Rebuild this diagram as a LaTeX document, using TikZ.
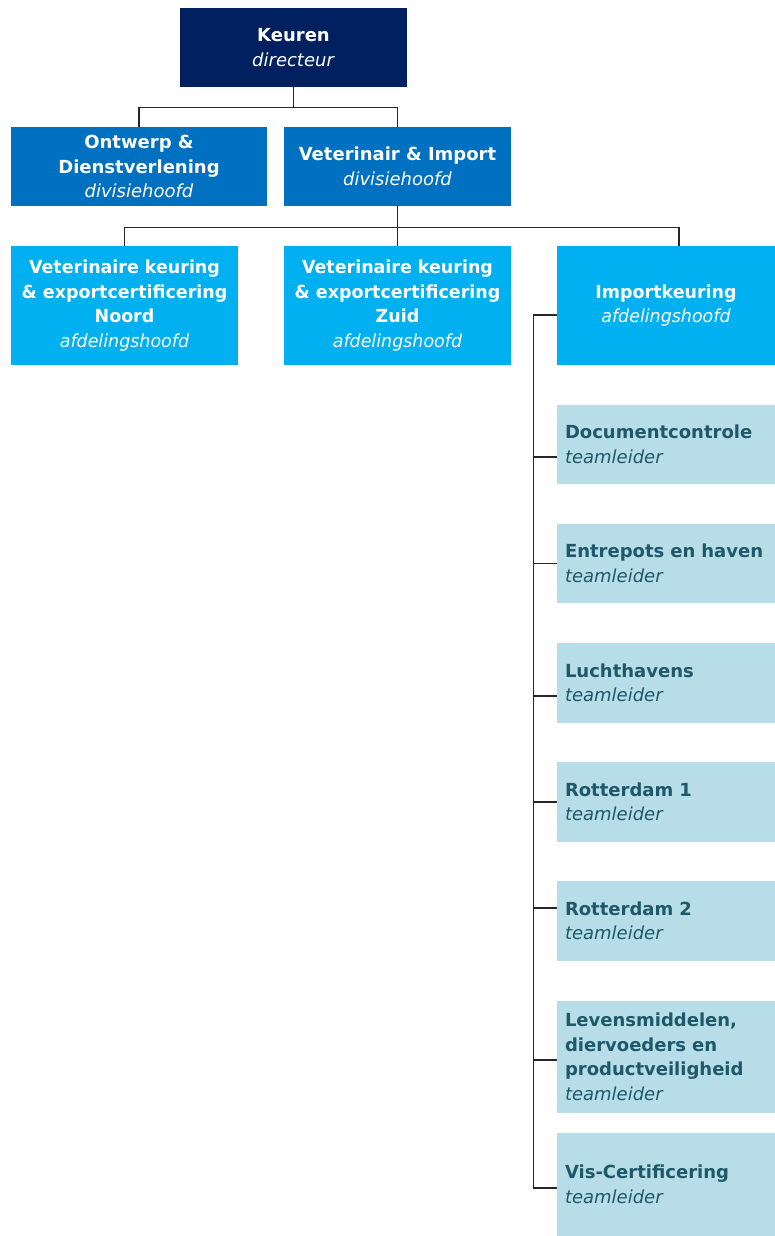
\documentclass[tikz,border=0pt]{standalone}
\usepackage{fontspec}
\setmainfont{DejaVu Sans}
\newfontfamily\condfont{DejaVu Sans}[FakeStretch=0.97]
\usetikzlibrary{positioning,calc}

\definecolor{navyblue}{RGB}{0,32,96}
\definecolor{midblue}{RGB}{0,112,192}
\definecolor{skyblue}{RGB}{0,176,240}
\definecolor{paleblue}{RGB}{183,221,232}
\definecolor{tealtext}{RGB}{31,88,104}

\tikzset{
  orgbox/.style={rectangle, inner sep=0pt, text=white, align=center,
    font=\fontsize{18}{24.5}\selectfont},
  orgtop/.style={orgbox, fill=navyblue, minimum width=227pt, minimum height=79pt},
  orgdiv/.style={orgbox, fill=midblue, minimum height=79pt},
  orgdept/.style={orgbox, fill=skyblue, minimum height=119pt,
    font=\condfont\fontsize{18}{24.5}\selectfont},
  orgteam/.style={orgbox, fill=paleblue, text=tealtext, align=left,
    minimum width=218pt, text width=202pt},
  link/.style={draw=black!85, line width=1.3pt}
}

\begin{document}
\begin{tikzpicture}[x=1pt,y=-1pt]
    \useasboundingbox (0,0) rectangle (775,1236);

    % Top
    \node[orgtop] (keuren) at (293.5,47.5) {\textbf{Keuren}\\\textit{directeur}};

    % Divisions
    \node[orgdiv, minimum width=256pt] (ontwerp) at (139,166.5)
        {\textbf{Ontwerp \&}\\\textbf{Dienstverlening}\\\textit{divisiehoofd}};
    \node[orgdiv, minimum width=227pt] (vetimport) at (397.5,166.5)
        {\textbf{Veterinair \& Import}\\\textit{divisiehoofd}};

    % Departments
    \node[orgdept, minimum width=227pt] (noord) at (124.5,305.5)
        {\textbf{Veterinaire keuring}\\\textbf{\& exportcertificering}\\\textbf{Noord}\\\textit{afdelingshoofd}};
    \node[orgdept, minimum width=227pt] (zuid) at (397.5,305.5)
        {\textbf{Veterinaire keuring}\\\textbf{\& exportcertificering}\\\textbf{Zuid}\\\textit{afdelingshoofd}};
    \node[orgdept, minimum width=218pt] (import) at (666,305.5)
        {\textbf{Importkeuring}\\\textit{afdelingshoofd}};

    % Teams
    \node[orgteam, minimum height=79pt] (doc) at (666,444.5)
        {\textbf{Documentcontrole}\\\textit{teamleider}};
    \node[orgteam, minimum height=79pt] (entrepot) at (666,563.5)
        {\textbf{Entrepots en haven}\\\textit{teamleider}};
    \node[orgteam, minimum height=80pt] (lucht) at (666,683)
        {\textbf{Luchthavens}\\\textit{teamleider}};
    \node[orgteam, minimum height=80pt] (rdam1) at (666,802)
        {\textbf{Rotterdam 1}\\\textit{teamleider}};
    \node[orgteam, minimum height=80pt] (rdam2) at (666,921)
        {\textbf{Rotterdam 2}\\\textit{teamleider}};
    \node[orgteam, minimum height=112pt] (levens) at (666,1057)
        {\textbf{Levensmiddelen,}\\\textbf{diervoeders en}\\\textbf{productveiligheid}\\\textit{teamleider}};
    \node[orgteam, minimum height=103pt] (vis) at (666,1184.5)
        {\textbf{Vis-Certificering}\\\textit{teamleider}};

    % Connectors
    \draw[link] (keuren.south) -- ++(0,20) -| (ontwerp.north);
    \draw[link] (keuren.south) -- ++(0,20) -| (vetimport.north);
    \draw[link] (vetimport.south) -- ++(0,21) -| (noord.north);
    \draw[link] (vetimport.south) -- ++(0,21) -| (zuid.north);
    \draw[link] (vetimport.south) -- ++(0,21) -| ([xshift=13pt]import.north);

    % Trunk to the teams
    \draw[link] ([yshift=-9.5pt]import.west) -- ++(-23,0) |- ([yshift=-3.5pt]vis.west);
    \foreach \team/\dy in {doc/-12.5, entrepot/0, lucht/-13, rdam1/0, rdam2/13, levens/-3}
        \draw[link] ([yshift=\dy pt]\team.west) -- ++(-23,0);
\end{tikzpicture}
\end{document}
